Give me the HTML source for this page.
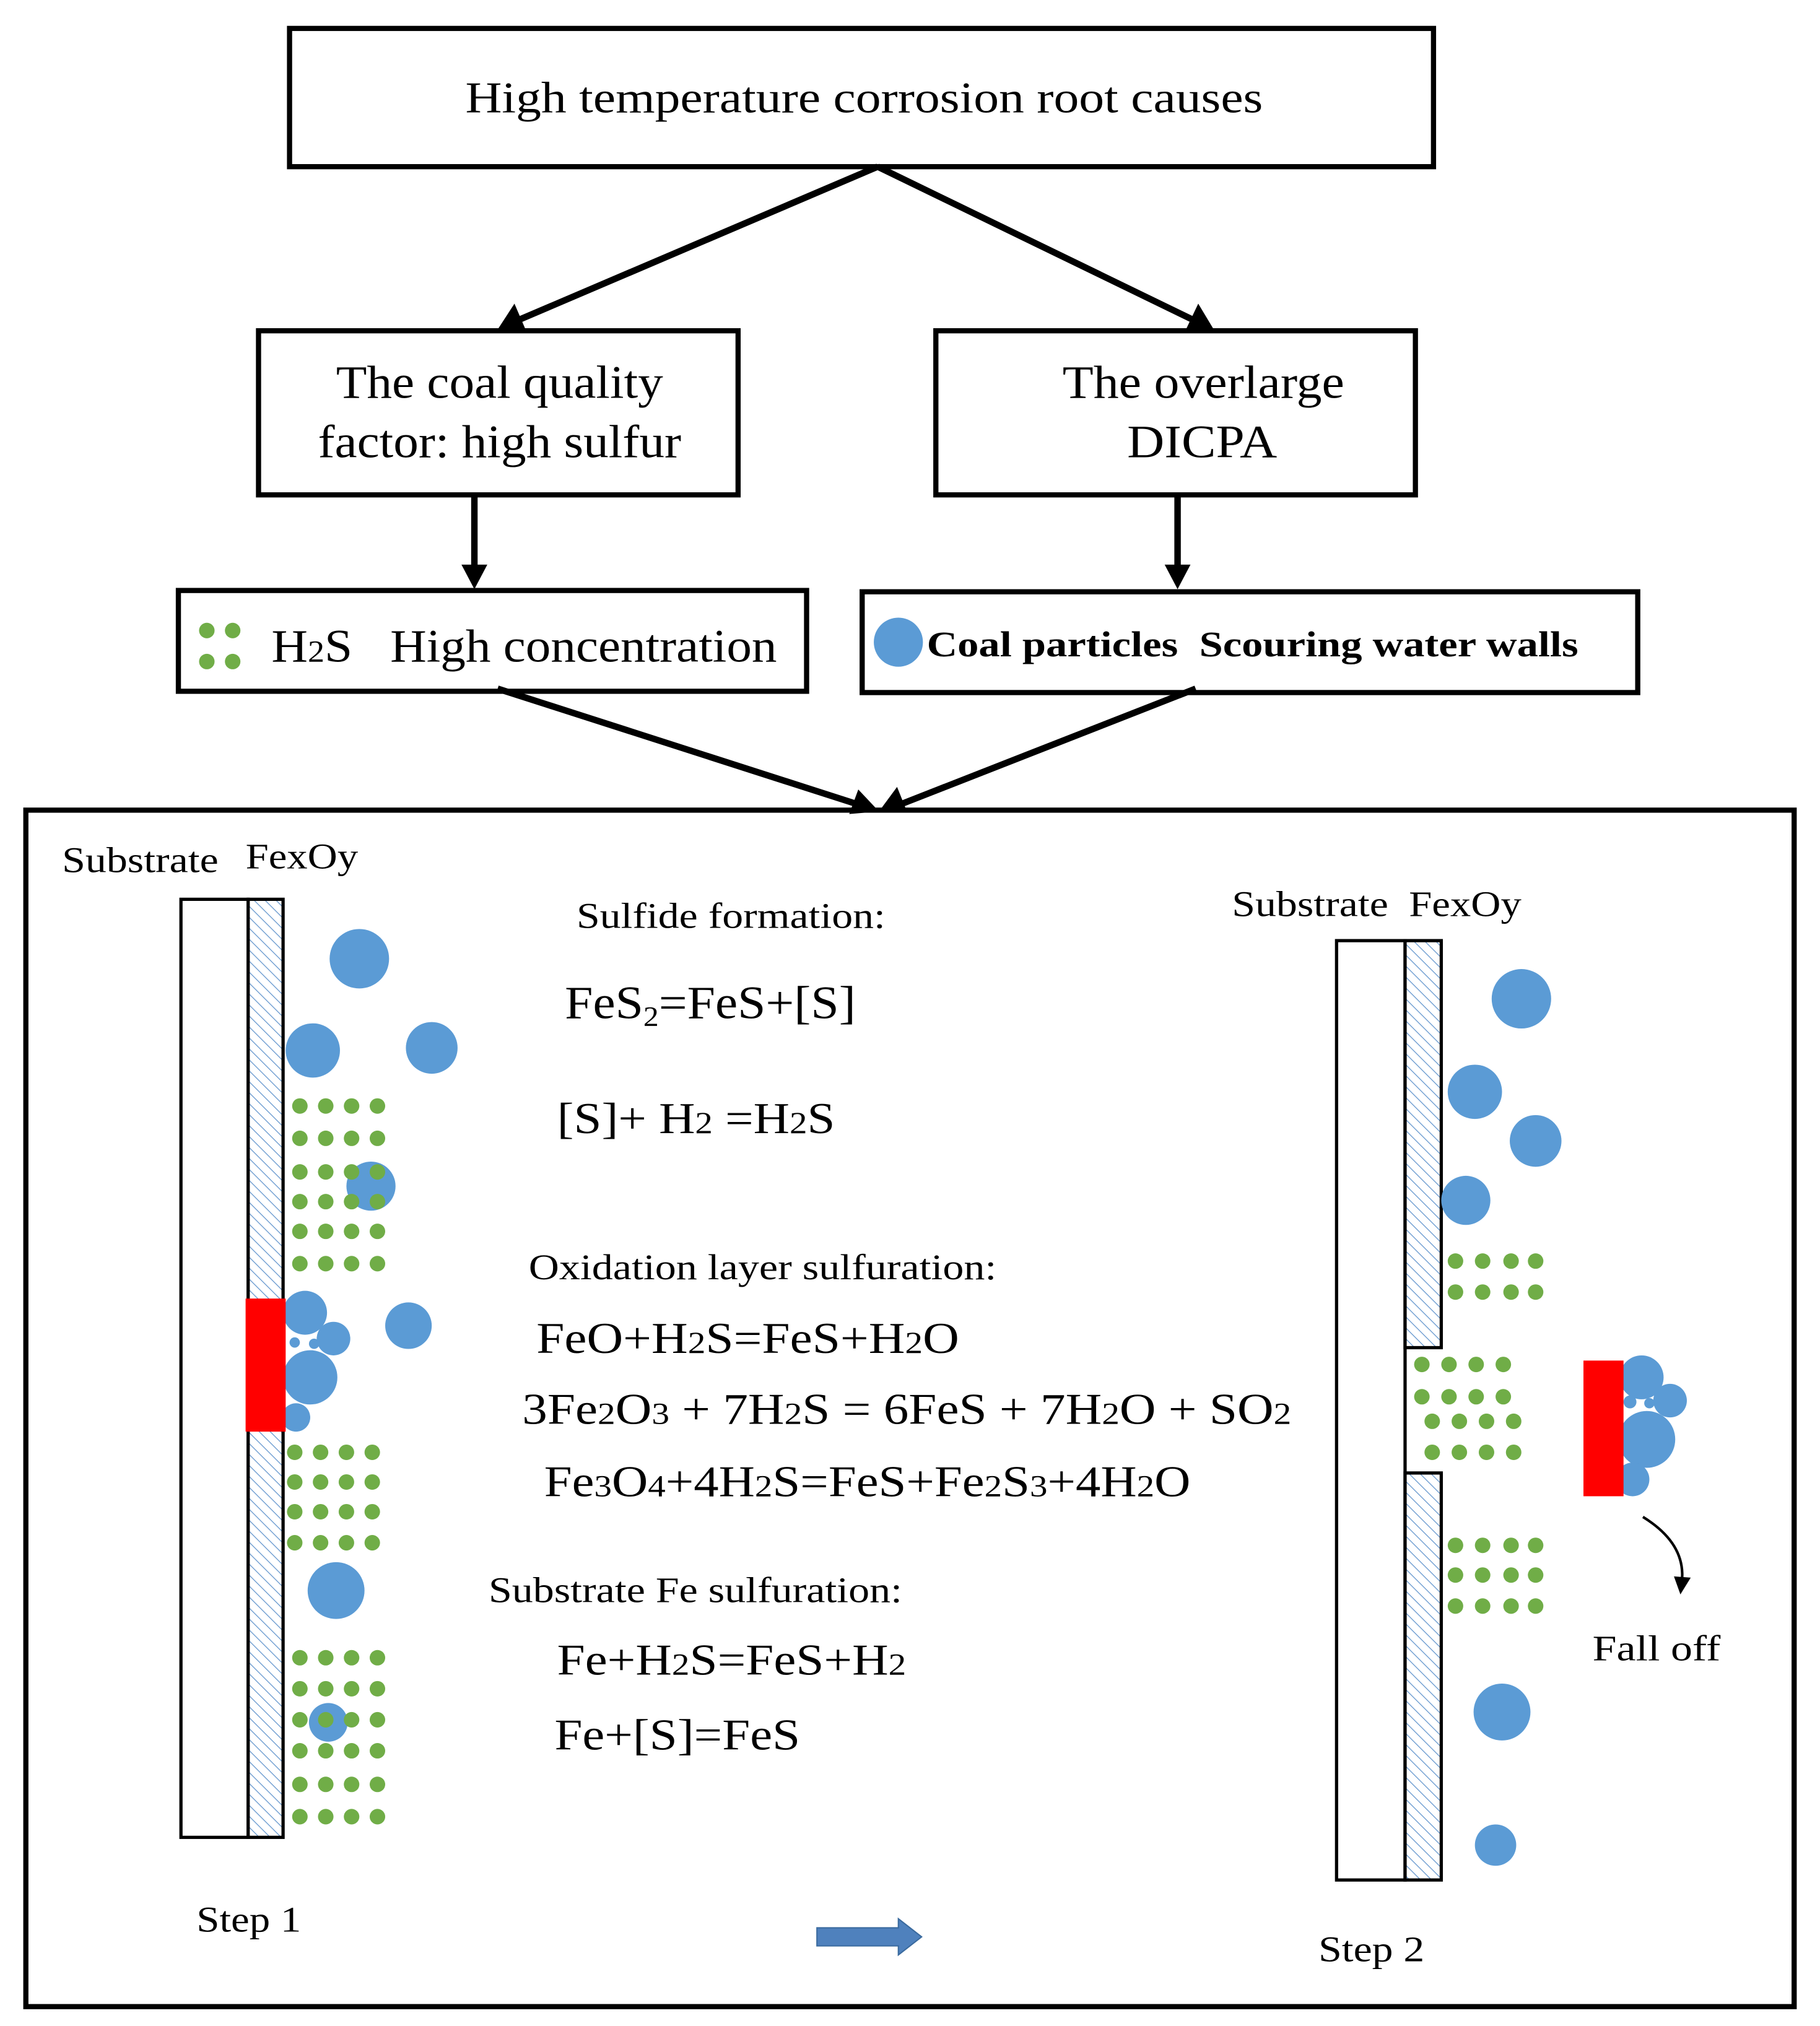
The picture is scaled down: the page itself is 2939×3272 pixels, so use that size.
<!DOCTYPE html>
<html><head><meta charset="utf-8"><style>
html,body{margin:0;padding:0;background:#fff;}
svg{display:block;}
text{font-family:"Liberation Serif","Times New Roman",serif;fill:#000;white-space:pre;}
</style></head><body>
<svg width="2939" height="3272" viewBox="0 0 1408 1568" preserveAspectRatio="none" xmlns="http://www.w3.org/2000/svg" xml:space="preserve">
<defs>
<pattern id="h" width="6" height="6" patternUnits="userSpaceOnUse" patternTransform="rotate(-45)">
<rect width="6" height="6" fill="#fff"/><line x1="0" y1="0" x2="0" y2="6" stroke="#6b9bd0" stroke-width="1.3"/>
</pattern>
</defs>
<rect width="1408" height="1568" fill="#fff"/>
<g fill="none" stroke="#000" stroke-width="4">
<rect x="224" y="22" width="885" height="107"/>
<rect x="200" y="256" width="371" height="127"/>
<rect x="724" y="256" width="371" height="127"/>
<rect x="138" y="457" width="486" height="78"/>
<rect x="667" y="458" width="600" height="78"/>
<rect x="20" y="627" width="1368" height="926"/>
</g>
<g stroke="#000" stroke-width="5" fill="none">
<line x1="679" y1="129" x2="398" y2="249"/>
<line x1="679" y1="129" x2="926" y2="249"/>
<line x1="367" y1="383" x2="367" y2="440"/>
<line x1="911" y1="383" x2="911" y2="440"/>
<line x1="385" y1="533" x2="662" y2="622"/>
<line x1="925" y1="533" x2="698" y2="622"/>
</g>
<g fill="#000">
<path d="M385,255 L398,235 L407,256 z"/>
<path d="M939,255 L917,256 L927,235 z"/>
<path d="M357,437 L377,437 L367,456 z"/>
<path d="M901,437 L921,437 L911,456 z"/>
<path d="M680,628 L657,630 L664,611 z"/>
<path d="M680,628 L694,609 L702,629 z"/>
</g>
<text x="360" y="87" font-size="34" textLength="617" lengthAdjust="spacingAndGlyphs">High temperature corrosion root causes</text>
<text x="260" y="308" font-size="36" textLength="253" lengthAdjust="spacingAndGlyphs">The coal quality</text>
<text x="246" y="354" font-size="36" textLength="281" lengthAdjust="spacingAndGlyphs">factor: high sulfur</text>
<text x="822" y="308" font-size="36" textLength="218" lengthAdjust="spacingAndGlyphs">The overlarge</text>
<text x="872" y="354" font-size="36" textLength="116" lengthAdjust="spacingAndGlyphs">DICPA</text>
<g fill="#70ad47"><circle cx="160" cy="488" r="6"/><circle cx="180" cy="488" r="6"/><circle cx="160" cy="512" r="6"/><circle cx="180" cy="512" r="6"/></g>
<text x="210" y="512" font-size="36" textLength="391" lengthAdjust="spacingAndGlyphs">H<tspan font-size="24">2</tspan>S   High concentration</text>
<circle cx="695" cy="497" r="19" fill="#5b9bd5"/>
<text x="717" y="508" font-size="28" font-weight="bold" textLength="504" lengthAdjust="spacingAndGlyphs">Coal particles  Scouring water walls</text>

<text x="48" y="675" font-size="28" textLength="121" lengthAdjust="spacingAndGlyphs">Substrate</text>
<text x="190" y="672" font-size="28" textLength="87" lengthAdjust="spacingAndGlyphs">FexOy</text>
<rect x="140" y="696" width="52" height="726" fill="#fff" stroke="#000" stroke-width="2.5"/>
<rect x="192" y="696" width="27" height="726" fill="url(#h)" stroke="#000" stroke-width="2.5"/>
<g fill="#5b9bd5">
<circle cx="278" cy="742" r="23"/><circle cx="242" cy="813" r="21"/><circle cx="334" cy="811" r="20"/>
<circle cx="287" cy="918" r="19"/><circle cx="236" cy="1016" r="17"/><circle cx="258" cy="1036" r="13"/>
<circle cx="240" cy="1066" r="21"/><circle cx="229" cy="1097" r="11"/><circle cx="316" cy="1026" r="18"/>
<circle cx="260" cy="1231" r="22"/><circle cx="254" cy="1333" r="15"/>
<circle cx="228" cy="1039" r="4"/><circle cx="243" cy="1040" r="4"/>
</g>
<rect x="190" y="1005" width="31" height="103" fill="#ff0000"/>
<g fill="#70ad47">
<circle cx="232" cy="856" r="6"/><circle cx="252" cy="856" r="6"/><circle cx="272" cy="856" r="6"/><circle cx="292" cy="856" r="6"/>
<circle cx="232" cy="881" r="6"/><circle cx="252" cy="881" r="6"/><circle cx="272" cy="881" r="6"/><circle cx="292" cy="881" r="6"/>
<circle cx="232" cy="907" r="6"/><circle cx="252" cy="907" r="6"/><circle cx="272" cy="907" r="6"/><circle cx="292" cy="907" r="6"/>
<circle cx="232" cy="930" r="6"/><circle cx="252" cy="930" r="6"/><circle cx="272" cy="930" r="6"/><circle cx="292" cy="930" r="6"/>
<circle cx="232" cy="953" r="6"/><circle cx="252" cy="953" r="6"/><circle cx="272" cy="953" r="6"/><circle cx="292" cy="953" r="6"/>
<circle cx="232" cy="978" r="6"/><circle cx="252" cy="978" r="6"/><circle cx="272" cy="978" r="6"/><circle cx="292" cy="978" r="6"/>
<circle cx="228" cy="1124" r="6"/><circle cx="248" cy="1124" r="6"/><circle cx="268" cy="1124" r="6"/><circle cx="288" cy="1124" r="6"/>
<circle cx="228" cy="1147" r="6"/><circle cx="248" cy="1147" r="6"/><circle cx="268" cy="1147" r="6"/><circle cx="288" cy="1147" r="6"/>
<circle cx="228" cy="1170" r="6"/><circle cx="248" cy="1170" r="6"/><circle cx="268" cy="1170" r="6"/><circle cx="288" cy="1170" r="6"/>
<circle cx="228" cy="1194" r="6"/><circle cx="248" cy="1194" r="6"/><circle cx="268" cy="1194" r="6"/><circle cx="288" cy="1194" r="6"/>
<circle cx="232" cy="1283" r="6"/><circle cx="252" cy="1283" r="6"/><circle cx="272" cy="1283" r="6"/><circle cx="292" cy="1283" r="6"/>
<circle cx="232" cy="1307" r="6"/><circle cx="252" cy="1307" r="6"/><circle cx="272" cy="1307" r="6"/><circle cx="292" cy="1307" r="6"/>
<circle cx="232" cy="1331" r="6"/><circle cx="252" cy="1331" r="6"/><circle cx="272" cy="1331" r="6"/><circle cx="292" cy="1331" r="6"/>
<circle cx="232" cy="1355" r="6"/><circle cx="252" cy="1355" r="6"/><circle cx="272" cy="1355" r="6"/><circle cx="292" cy="1355" r="6"/>
<circle cx="232" cy="1381" r="6"/><circle cx="252" cy="1381" r="6"/><circle cx="272" cy="1381" r="6"/><circle cx="292" cy="1381" r="6"/>
<circle cx="232" cy="1406" r="6"/><circle cx="252" cy="1406" r="6"/><circle cx="272" cy="1406" r="6"/><circle cx="292" cy="1406" r="6"/>
</g>
<text x="152" y="1495" font-size="28" textLength="81" lengthAdjust="spacingAndGlyphs">Step 1</text>

<text x="446" y="718" font-size="28" textLength="239" lengthAdjust="spacingAndGlyphs">Sulfide formation:</text>
<text x="437" y="788" font-size="36" textLength="225" lengthAdjust="spacingAndGlyphs">FeS<tspan font-size="22" dy="6">2</tspan><tspan dy="-6">=FeS+[S]</tspan></text>
<text x="431" y="877" font-size="34" textLength="215" lengthAdjust="spacingAndGlyphs">[S]+ H<tspan font-size="24">2</tspan> =H<tspan font-size="24">2</tspan>S</text>
<text x="409" y="990" font-size="28" textLength="362" lengthAdjust="spacingAndGlyphs">Oxidation layer sulfuration:</text>
<text x="415" y="1047" font-size="34" textLength="327" lengthAdjust="spacingAndGlyphs">FeO+H<tspan font-size="24">2</tspan>S=FeS+H<tspan font-size="24">2</tspan>O</text>
<text x="404" y="1102" font-size="34" textLength="595" lengthAdjust="spacingAndGlyphs">3Fe<tspan font-size="24">2</tspan>O<tspan font-size="24">3</tspan> + 7H<tspan font-size="24">2</tspan>S = 6FeS + 7H<tspan font-size="24">2</tspan>O + SO<tspan font-size="24">2</tspan></text>
<text x="421" y="1158" font-size="34" textLength="500" lengthAdjust="spacingAndGlyphs">Fe<tspan font-size="24">3</tspan>O<tspan font-size="24">4</tspan>+4H<tspan font-size="24">2</tspan>S=FeS+Fe<tspan font-size="24">2</tspan>S<tspan font-size="24">3</tspan>+4H<tspan font-size="24">2</tspan>O</text>
<text x="378" y="1240" font-size="28" textLength="320" lengthAdjust="spacingAndGlyphs">Substrate Fe sulfuration:</text>
<text x="431" y="1296" font-size="34" textLength="270" lengthAdjust="spacingAndGlyphs">Fe+H<tspan font-size="24">2</tspan>S=FeS+H<tspan font-size="24">2</tspan></text>
<text x="429" y="1354" font-size="34" textLength="190" lengthAdjust="spacingAndGlyphs">Fe+[S]=FeS</text>

<path d="M632,1492 L695,1492 L695,1485 L713,1499 L695,1513 L695,1506 L632,1506 z" fill="#4f81bd" stroke="#3a6a9e" stroke-width="1"/>

<text x="953" y="709" font-size="28" textLength="121" lengthAdjust="spacingAndGlyphs">Substrate</text>
<text x="1090" y="709" font-size="28" textLength="87" lengthAdjust="spacingAndGlyphs">FexOy</text>
<rect x="1034" y="728" width="53" height="727" fill="#fff" stroke="#000" stroke-width="2.5"/>
<rect x="1087" y="728" width="28" height="315" fill="url(#h)" stroke="#000" stroke-width="2.5"/>
<rect x="1087" y="1140" width="28" height="315" fill="url(#h)" stroke="#000" stroke-width="2.5"/>
<g fill="#5b9bd5">
<circle cx="1177" cy="773" r="23"/><circle cx="1141" cy="845" r="21"/><circle cx="1188" cy="883" r="20"/>
<circle cx="1134" cy="929" r="19"/><circle cx="1162" cy="1325" r="22"/><circle cx="1157" cy="1428" r="16"/>
<circle cx="1270" cy="1066" r="17"/><circle cx="1292" cy="1084" r="13"/><circle cx="1274" cy="1114" r="22"/>
<circle cx="1263" cy="1145" r="13"/><circle cx="1261" cy="1085" r="5"/><circle cx="1276" cy="1086" r="4"/>
</g>
<rect x="1225" y="1053" width="31" height="105" fill="#ff0000"/>
<g fill="#70ad47">
<circle cx="1126" cy="976" r="6"/><circle cx="1147" cy="976" r="6"/><circle cx="1169" cy="976" r="6"/><circle cx="1188" cy="976" r="6"/>
<circle cx="1126" cy="1000" r="6"/><circle cx="1147" cy="1000" r="6"/><circle cx="1169" cy="1000" r="6"/><circle cx="1188" cy="1000" r="6"/>
<circle cx="1100" cy="1056" r="6"/><circle cx="1121" cy="1056" r="6"/><circle cx="1142" cy="1056" r="6"/><circle cx="1163" cy="1056" r="6"/>
<circle cx="1100" cy="1081" r="6"/><circle cx="1121" cy="1081" r="6"/><circle cx="1142" cy="1081" r="6"/><circle cx="1163" cy="1081" r="6"/>
<circle cx="1108" cy="1100" r="6"/><circle cx="1129" cy="1100" r="6"/><circle cx="1150" cy="1100" r="6"/><circle cx="1171" cy="1100" r="6"/>
<circle cx="1108" cy="1124" r="6"/><circle cx="1129" cy="1124" r="6"/><circle cx="1150" cy="1124" r="6"/><circle cx="1171" cy="1124" r="6"/>
<circle cx="1126" cy="1196" r="6"/><circle cx="1147" cy="1196" r="6"/><circle cx="1169" cy="1196" r="6"/><circle cx="1188" cy="1196" r="6"/>
<circle cx="1126" cy="1219" r="6"/><circle cx="1147" cy="1219" r="6"/><circle cx="1169" cy="1219" r="6"/><circle cx="1188" cy="1219" r="6"/>
<circle cx="1126" cy="1243" r="6"/><circle cx="1147" cy="1243" r="6"/><circle cx="1169" cy="1243" r="6"/><circle cx="1188" cy="1243" r="6"/>
</g>
<path d="M1271,1174 Q1305,1195 1301,1225" fill="none" stroke="#000" stroke-width="2"/>
<path d="M1295,1220 L1308,1221 L1300,1234 z" fill="#000"/>
<text x="1232" y="1285" font-size="28" textLength="99" lengthAdjust="spacingAndGlyphs">Fall off</text>
<text x="1020" y="1518" font-size="28" textLength="82" lengthAdjust="spacingAndGlyphs">Step 2</text>
</svg>
</body></html>
